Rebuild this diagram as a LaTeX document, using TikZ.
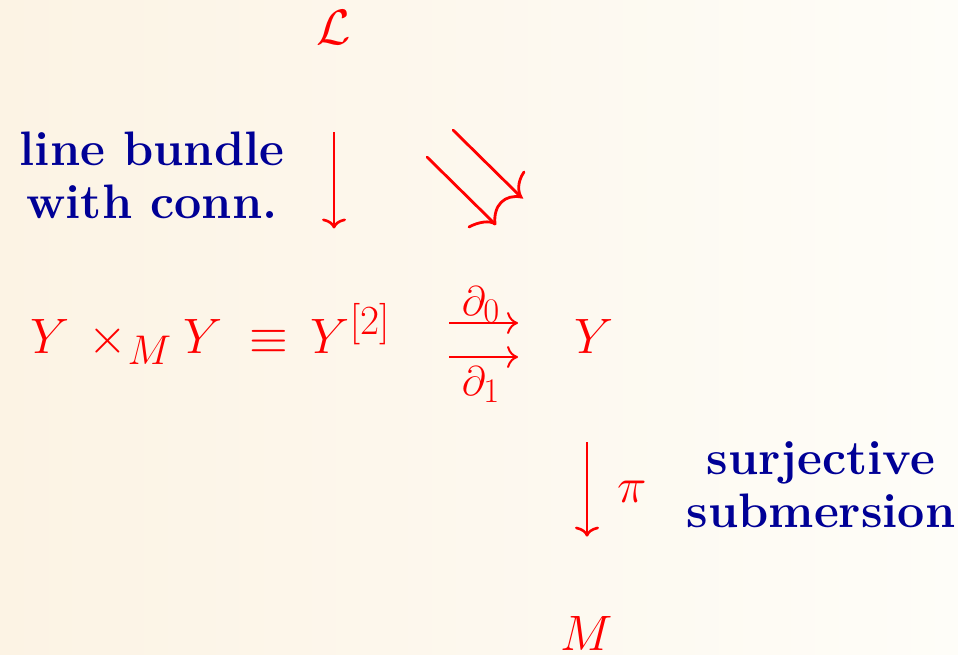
\documentclass[tikz,border=0pt]{standalone}
\usepackage{amsmath, amssymb}
\usetikzlibrary{arrows.meta, positioning}
\DeclareMathSizes{25}{25}{20}{15}
\DeclareMathSizes{20}{20}{17}{13}
\definecolor{bgL}{RGB}{252,243,228}
\definecolor{bgR}{RGB}{254,253,248}
\definecolor{txtB}{RGB}{0,0,150}
\tikzset{
  mth/.style  ={text=red, font=\fontsize{25}{30}\selectfont, inner sep=0pt},
  subl/.style ={text=red, font=\fontsize{20}{24}\selectfont, inner sep=0pt},
  lbl/.style  ={text=txtB, font=\fontsize{24.2}{26.5}\selectfont\bfseries,
                align=center, inner sep=0pt},
  down/.style ={-{Computer Modern Rightarrow[length=5pt, width=12pt]},
                red, line width=1.3pt},
  xarr/.style ={-{Computer Modern Rightarrow[length=5.5pt, width=11pt]},
                red, line width=1pt},
  dbl/.style  ={red, line width=1.4pt, line cap=round},
}
\begin{document}
\begin{tikzpicture}[x=0.5pt, y=-0.5pt]
  \shade[left color=bgL, right color=bgR] (0,0) rectangle (958,654);
  \useasboundingbox (0,0) rectangle (958,654);
  % objects
  \node[mth, anchor=base] (L)  at (334,44)  {$\mathcal{L}$};
  \node[mth, anchor=base east] (YY) at (391,353)
    {$Y\,\times_M Y\;\equiv\,Y^{[2]}$};
  \node[mth, anchor=base] (Y)  at (594,353) {$Y$};
  \node[mth, anchor=base] (M)  at (587,650) {$M$};
  % blue remarks
  \node[lbl] (lb) at (152,175) {line bundle\\with conn.};
  \node[lbl] (ss) at (821,485) {surjective\\submersion};
  % L -> Y^[2]
  \draw[down, shorten <=44pt, shorten >=37.5pt] (L.south) -- (L |- YY.north);
  % the two face maps
  \draw[xarr, shorten <=29pt, shorten >=28pt]
    ([yshift=15pt]YY.base east) -- ([yshift=15pt]Y.base west);
  \draw[xarr, shorten <=29pt, shorten >=28pt]
    ([yshift=-2pt]YY.base east) -- ([yshift=-2pt]Y.base west);
  \node[subl, anchor=base] (d0) at (481,315) {$\partial_0$};
  \node[subl, anchor=base] (d1) at (481,395) {$\partial_1$};
  % double arrow towards Y
  \coordinate (u0) at (453,130);
  \coordinate (u1) at (521,197);
  \coordinate (v0) at (427,157);
  \coordinate (v1) at (495,224);
  \draw[dbl] (u0) -- (u1);
  \draw[dbl] (v0) -- (v1);
  \draw[dbl] (524,172) .. controls (517,182) and (518,192) .. (u1)
    .. controls (505,194) and (493,205) .. (v1);
  \draw[dbl] (469,227) .. controls (478,222) and (490,220) .. (v1);
  % Y -> M
  \draw[down, shorten <=44.5pt, shorten >=39.5pt] (Y.south -| M) -- (M.north);
  \node[mth, anchor=base] (pi) at (632,502) {$\pi$};
\end{tikzpicture}
\end{document}
